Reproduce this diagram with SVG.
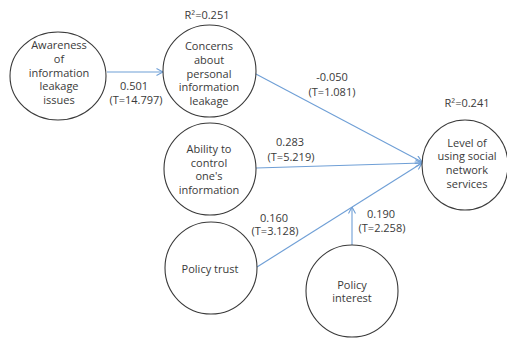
<svg xmlns="http://www.w3.org/2000/svg" width="507" height="339" viewBox="0 0 507 339">
<defs>
<style>
.node ellipse{fill:#fff;stroke:#3a3a3a;stroke-width:1.1}
text{font-family:"Open Sans","Noto Sans","Liberation Sans",sans-serif;font-size:11px;fill:#3a3a3a;text-anchor:middle}
.conn line{stroke:#6f9fd6;stroke-width:1.1;marker-end:url(#arr)}
</style>
<marker id="arr" viewBox="0 0 8 8" refX="7.5" refY="4" markerWidth="8" markerHeight="8" markerUnits="userSpaceOnUse" orient="auto">
<path d="M1,0.5 L7.5,4 L1,7.5" fill="none" stroke="#6f9fd6" stroke-width="1.1"/>
</marker>
</defs>
<rect width="507" height="339" fill="#fff"/>
<g id="connectors" class="conn">
<line x1="107" y1="72" x2="163" y2="72"/>
<line x1="254" y1="73" x2="422" y2="162"/>
<line x1="256" y1="168" x2="422" y2="163"/>
<line x1="257" y1="267" x2="422" y2="163"/>
<line x1="352" y1="245" x2="352" y2="207"/>
</g>
<g id="awareness" class="node">
<ellipse cx="58" cy="76" rx="48" ry="44"/>
<text x="59" y="49">Awareness</text>
<text x="59" y="62.8">of</text>
<text x="59" y="76.6">information</text>
<text x="59" y="90.4">leakage</text>
<text x="59" y="104.2">issues</text>
</g>
<g id="concerns" class="node">
<ellipse cx="209.5" cy="71" rx="46.5" ry="46"/>
<text x="209" y="50">Concerns</text>
<text x="209" y="63.8">about</text>
<text x="209" y="77.6">personal</text>
<text x="209" y="91.4">information</text>
<text x="209" y="105.2">leakage</text>
</g>
<g id="ability" class="node">
<ellipse cx="210" cy="169" rx="46" ry="46"/>
<text x="209" y="152.8">Ability to</text>
<text x="209" y="166.6">control</text>
<text x="209" y="180.4">one's</text>
<text x="209" y="194.2">information</text>
</g>
<g id="policy-trust" class="node">
<ellipse cx="211" cy="268" rx="46" ry="46"/>
<text x="210" y="273">Policy trust</text>
</g>
<g id="policy-interest" class="node">
<ellipse cx="352" cy="291" rx="46" ry="46"/>
<text x="352" y="288.5">Policy</text>
<text x="352" y="302.3">interest</text>
</g>
<g id="level" class="node">
<ellipse cx="465" cy="165" rx="43" ry="45"/>
<text x="467" y="146.5">Level of</text>
<text x="467" y="160.3">using social</text>
<text x="467" y="174.1">network</text>
<text x="467" y="187.9">services</text>
</g>
<g id="labels">
<text x="207" y="19">R²=0.251</text>
<text x="467" y="107">R²=0.241</text>
<text x="134" y="90">0.501</text>
<text x="136" y="104">(T=14.797)</text>
<text x="332" y="81">-0.050</text>
<text x="332" y="96">(T=1.081)</text>
<text x="290" y="146">0.283</text>
<text x="291" y="161">(T=5.219)</text>
<text x="274" y="221.5">0.160</text>
<text x="275" y="235.3">(T=3.128)</text>
<text x="381" y="218">0.190</text>
<text x="382" y="232">(T=2.258)</text>
</g>
</svg>
